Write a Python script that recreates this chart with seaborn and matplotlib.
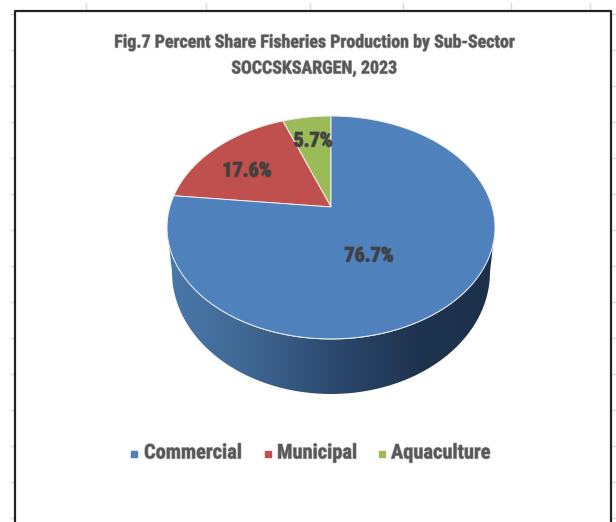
import numpy as np
import matplotlib
matplotlib.use('Agg')
import matplotlib.pyplot as plt
import matplotlib.patheffects as pe
from matplotlib.colors import LinearSegmentedColormap
from matplotlib.patches import Polygon, PathPatch
from matplotlib.path import Path
import seaborn as sns

categories = ['Commercial', 'Municipal', 'Aquaculture']
shares = [76.7, 17.6, 5.7]
share_labels = ['76.7%', '17.6%', '5.7%']
slice_colors = ['#4f81bd', '#c0504d', '#9bbb59']
title_lines = ['Fig.7 Percent Share Fisheries Production by Sub-Sector', 'SOCCSKSARGEN, 2023']

sns.set_theme(style='white')
plt.rcParams['font.family'] = ['Roboto Condensed', 'DejaVu Sans']

fig = plt.figure(figsize=(6.16, 5.22), dpi=100)
ax = fig.add_axes([0, 0, 1, 1])
ax.set_xlim(0, 616)
ax.set_ylim(522, 0)
ax.axis('off')

# spreadsheet gridline stubs around the chart
for y in range(14, 522, 36):
  ax.plot([11, 15], [y, y], color='#d9d9d9', lw=1)
  ax.plot([611, 616], [y, y], color='#d9d9d9', lw=1)
for x in [86, 206, 310, 403, 511, 590]:
  ax.plot([x, x], [3, 10], color='#d9d9d9', lw=1)
ax.plot([15, 15, 611, 611], [522, 10.5, 10.5, 522], color='#222222', lw=1.6)

# perspective of the tilted disc
cx, cy = 331, 207
A, B, k = 161.2, 107.7, 0.1837

def rim(angle_deg):
  a = np.radians(angle_deg)
  w = 1 + k * np.cos(a)
  return cx + A * np.sin(a) / w, cy - B * np.cos(a) / w

# side wall with a horizontal shade
top_x, top_y = rim(np.linspace(0, 360, 361))
ell_cy = (top_y.min() + top_y.max()) / 2
t = np.linspace(0, np.pi, 200)
low_x = 331 + 159 * np.cos(t)
low_y = 272 + 122 * np.sin(t)
up_x = 331 + 164 * np.cos(t)[::-1]
up_y = ell_cy + 112 * np.sin(t)[::-1]
side_path = Path(np.column_stack([np.r_[low_x, up_x], np.r_[low_y, up_y]]))
shade = LinearSegmentedColormap.from_list('side', ['#4a78ab', '#3f6792', '#2c4a70', '#1f3450', '#1c3049'])
img = ax.imshow(np.linspace(0, 1, 256)[None, :], cmap=shade, extent=[167, 495, 400, 220], aspect='auto', zorder=2)
clip = PathPatch(side_path, transform=ax.transData, fc='none', ec='none')
ax.add_patch(clip)
img.set_clip_path(clip)
ax.set_xlim(0, 616)
ax.set_ylim(522, 0)

# slices, clockwise from 12 o'clock; aquaculture and municipal sit left of the top
ends = 360 - np.cumsum([0] + shares[::-1]) * 3.6
order = categories[::-1]
for i, name in enumerate(order):
  angles = np.linspace(ends[i], ends[i + 1], 200)
  xs, ys = rim(angles)
  pts = np.column_stack([np.r_[cx, xs], np.r_[cy, ys]])
  color = slice_colors[categories.index(name)]
  ax.add_patch(Polygon(pts, closed=True, fc=color, ec='#f0f0f0', lw=0.7, zorder=3))

title_fx = [pe.withStroke(linewidth=0.9, foreground='#8c8c8c', alpha=0.6)]
label_fx = [pe.withStroke(linewidth=1.1, foreground='#404040', alpha=0.6)]
for line, y in zip(title_lines, [42.5, 68.5]):
  ax.text(314, y, line, ha='center', va='center', fontsize=12.9, fontweight='bold',
          color='#595959', path_effects=title_fx, zorder=5)

for label, (x, y) in zip(share_labels, [(369, 256), (247, 171), (313, 141)]):
  ax.text(x, y, label, ha='center', va='center', fontsize=14.5, fontweight='bold',
          color='#404040', path_effects=label_fx, zorder=5)

# legend
for name, color, box_x, text_x in zip(categories, slice_colors, [134, 268, 381.5], [144, 277, 391]):
  ax.scatter([box_x], [453.5], marker='s', s=20, color=color, zorder=5)
  ax.text(text_x, 453, name, ha='left', va='center', fontsize=14.7, fontweight='bold',
          color='#595959', path_effects=title_fx, zorder=5)

fig.savefig('out.png', dpi=100)
